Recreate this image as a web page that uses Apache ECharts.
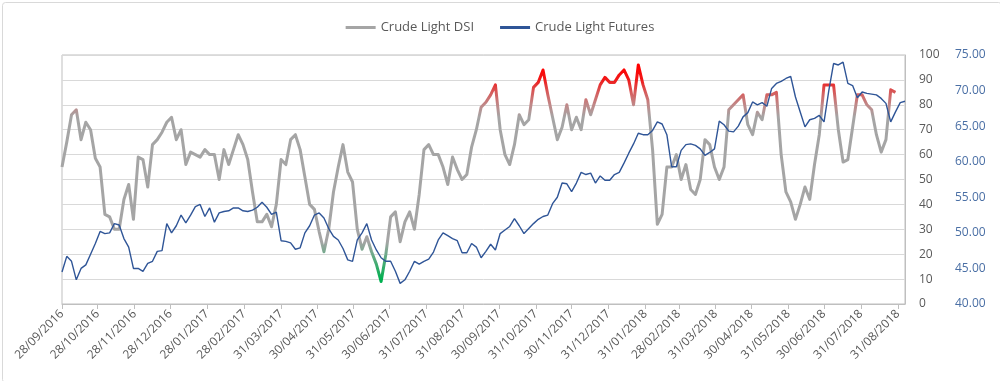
<!DOCTYPE html>
<html>
<head>
<meta charset="utf-8">
<script src="https://cdn.jsdelivr.net/npm/echarts@6/dist/echarts.min.js"></script>
<style>
html,body{margin:0;padding:0;background:#fff;}
#chart{width:1000px;height:381px;}
</style>
</head>
<body>
<div id="chart"></div>
<script>
// Sample dates (every 4 days)
const DATES = [
'2016-09-28','2016-10-02','2016-10-06','2016-10-10','2016-10-14','2016-10-18','2016-10-22','2016-10-26','2016-10-30',
'2016-11-03','2016-11-07','2016-11-11','2016-11-15','2016-11-19','2016-11-23','2016-11-27',
'2016-12-01','2016-12-05','2016-12-09','2016-12-13','2016-12-17','2016-12-21','2016-12-25','2016-12-29',
'2017-01-02','2017-01-06','2017-01-10','2017-01-14','2017-01-18','2017-01-22','2017-01-26','2017-01-30',
'2017-02-03','2017-02-07','2017-02-11','2017-02-15','2017-02-19','2017-02-23','2017-02-27',
'2017-03-03','2017-03-07','2017-03-11','2017-03-15','2017-03-19','2017-03-23','2017-03-27','2017-03-31',
'2017-04-04','2017-04-08','2017-04-12','2017-04-16','2017-04-20','2017-04-24','2017-04-28',
'2017-05-02','2017-05-06','2017-05-10','2017-05-14','2017-05-18','2017-05-22','2017-05-26','2017-05-30',
'2017-06-03','2017-06-07','2017-06-11','2017-06-15','2017-06-19','2017-06-23','2017-06-27',
'2017-07-01','2017-07-05','2017-07-09','2017-07-13','2017-07-17','2017-07-21','2017-07-25','2017-07-29',
'2017-08-02','2017-08-06','2017-08-10','2017-08-14','2017-08-18','2017-08-22','2017-08-26','2017-08-30',
'2017-09-03','2017-09-07','2017-09-11','2017-09-15','2017-09-19','2017-09-23','2017-09-27',
'2017-10-01','2017-10-05','2017-10-09','2017-10-13','2017-10-17','2017-10-21','2017-10-25','2017-10-29',
'2017-11-02','2017-11-06','2017-11-10','2017-11-14','2017-11-18','2017-11-22','2017-11-26','2017-11-30',
'2017-12-04','2017-12-08','2017-12-12','2017-12-16','2017-12-20','2017-12-24','2017-12-28',
'2018-01-01','2018-01-05','2018-01-09','2018-01-13','2018-01-17','2018-01-21','2018-01-25','2018-01-29',
'2018-02-02','2018-02-06','2018-02-10','2018-02-14','2018-02-18','2018-02-22','2018-02-26',
'2018-03-02','2018-03-06','2018-03-10','2018-03-14','2018-03-18','2018-03-22','2018-03-26','2018-03-30',
'2018-04-03','2018-04-07','2018-04-11','2018-04-15','2018-04-19','2018-04-23','2018-04-27',
'2018-05-01','2018-05-05','2018-05-09','2018-05-13','2018-05-17','2018-05-21','2018-05-25','2018-05-29',
'2018-06-02','2018-06-06','2018-06-10','2018-06-14','2018-06-18','2018-06-22','2018-06-26','2018-06-30',
'2018-07-04','2018-07-08','2018-07-12','2018-07-16','2018-07-20','2018-07-24','2018-07-28',
'2018-08-01','2018-08-05','2018-08-09','2018-08-13','2018-08-17','2018-08-21','2018-08-25','2018-08-29',
'2018-09-02','2018-09-06'
];

// Crude Light DSI (0-100)
const DSI = [
55,65,76,78,66,73,70,58.5,55,36,35,30,30,42,48,34,59,58,47,64,66,69,73,75,66,70,56,61,60,59,
62,60,60,50,62,56,62,68,64,58,45,33,33,36,31,40,58,56,66,68,62,51,40,38,29,21,30,45,55,64,
53,49,30,22,27,21,16,9,20,35,37,25,33,37,30,44,62,64,60,60,55,48,59,54,50,52,63,70,79,81,
84,88,70,60,56,64,76,72,74,87,89,94,84,75,66,71,80,70,75,70,82,76,82,88,91,89,89,92,94,
90,80,96,88,82,62,32,36,55,55,60,50,56,46,44,50,66,64,55,50,55,78,80,82,84,72,68,77,74,
84,84,85,60,45,41,34,40,47,42,56,68,88,88,88,70,57,58,71,84,84,80,78,68,61,66,86,85
];

// Crude Light Futures (price)
const FUTURES = [
44.5,46.7,46.0,43.4,45.0,45.5,47.0,48.5,50.2,49.9,50.0,51.3,51.1,49.2,48.0,45.0,45.0,44.6,45.7,46.0,47.4,47.5,51.3,50.0,51.0,52.5,51.4,52.5,53.7,54.0,
52.3,53.5,51.5,52.8,53.0,53.1,53.5,53.5,53.1,53.0,53.2,53.6,54.3,53.6,52.6,52.9,48.9,48.8,48.6,47.7,47.9,50.0,51.0,52.5,52.8,52.1,50.6,49.5,49.0,47.8,
46.2,46.0,49.0,50.0,51.3,49.0,47.6,46.5,46.0,46.0,44.6,42.9,43.4,44.6,46.0,45.6,46.0,46.3,47.3,49.0,50.0,49.6,49.2,48.9,47.2,47.2,48.5,48.0,46.5,47.4,
48.4,47.6,49.9,50.4,50.9,52.0,51.0,49.9,50.6,51.3,51.9,52.3,52.5,54.1,55.0,57.0,56.9,55.8,57.0,58.5,58.2,58.4,57.0,58.0,57.4,57.4,58.2,58.5,59.8,
61.2,62.5,64.0,63.8,63.8,64.4,65.6,65.3,63.8,59.3,59.3,61.6,62.4,62.5,62.3,61.8,60.9,61.3,61.8,65.7,65.2,64.3,64.2,65.0,66.3,66.9,68.4,68.0,68.3,
67.8,70.3,71.0,71.3,71.7,72.0,69.1,67.0,64.9,65.9,66.1,66.5,65.6,70.0,73.8,73.6,74.0,71.0,70.7,69.0,69.8,69.6,69.5,69.4,68.9,68.2,65.6,67.0,68.3,68.5
];

// X-axis tick labels
const X_TICK_LABELS = [
'28/09/2016','28/10/2016','28/11/2016','28/12/2016','28/01/2017','28/02/2017','31/03/2017','30/04/2017',
'31/05/2017','30/06/2017','31/07/2017','31/08/2017','30/09/2017','31/10/2017','30/11/2017','31/12/2017',
'31/01/2018','28/02/2018','31/03/2018','30/04/2018','31/05/2018','30/06/2018','31/07/2018','31/08/2018'
];
const X_MIN = '2016-09-28';
const X_MAX = '2018-09-06';

function parseISO(s){ const p = s.split('-').map(Number); return Date.UTC(p[0], p[1]-1, p[2]); }
function parseDMY(s){ const p = s.split('/').map(Number); return Date.UTC(p[2], p[1]-1, p[0]); }
function pad(n){ return (n < 10 ? '0' : '') + n; }
function fmt(ts){ const d = new Date(ts); return pad(d.getUTCDate()) + '/' + pad(d.getUTCMonth()+1) + '/' + d.getUTCFullYear(); }

const tickValues = X_TICK_LABELS.map(parseDMY);
const dsiData = DSI.map((v, i) => [parseISO(DATES[i]), v]);
const futData = FUTURES.map((v, i) => [parseISO(DATES[i]), v]);

const FONT = 'Open Sans';
const chart = echarts.init(document.getElementById('chart'), null, {renderer: 'canvas'});
chart.setOption({
  animation: false,
  backgroundColor: '#ffffff',
  textStyle: {fontFamily: FONT},
  graphic: [{
    type: 'rect', left: 0, top: 0, silent: true,
    shape: {x: 0.5, y: 0.5, width: 999, height: 380, r: 3},
    style: {fill: 'none', stroke: '#d9d9d9', lineWidth: 1}
  }],
  legend: {
    top: 16, left: 'center', icon: 'rect', itemWidth: 30, itemHeight: 3, itemGap: 26,
    textStyle: {fontFamily: FONT, fontSize: 13, color: '#595959'},
    data: [
      {name: 'Crude Light DSI', itemStyle: {color: '#a5a5a5'}},
      {name: 'Crude Light Futures', itemStyle: {color: '#2f5597'}}
    ]
  },
  grid: {left: 62, right: 95, top: 55, bottom: 77, show: true, borderColor: '#bfbfbf', borderWidth: 1},
  xAxis: {
    type: 'value',
    min: parseISO(X_MIN), max: parseISO(X_MAX),
    axisLine: {show: true, onZero: false, lineStyle: {color: '#bfbfbf'}},
    axisTick: {show: true, length: 5, customValues: tickValues, lineStyle: {color: '#bfbfbf'}},
    axisLabel: {
      customValues: tickValues, rotate: 45, margin: 8, hideOverlap: false,
      color: '#595959', fontSize: 12, fontFamily: FONT,
      formatter: function (v) { return fmt(v); }
    },
    splitLine: {show: false},
    minorTick: {show: false}
  },
  yAxis: [
    {
      type: 'value', position: 'right', min: 0, max: 100, interval: 10,
      axisLine: {show: true, lineStyle: {color: '#bfbfbf'}},
      axisTick: {show: false},
      axisLabel: {color: '#595959', fontSize: 12, margin: 14, fontFamily: FONT},
      splitLine: {show: true, lineStyle: {color: '#d9d9d9'}}
    },
    {
      type: 'value', position: 'right', offset: 42, min: 40, max: 75, interval: 5,
      axisLine: {show: false}, axisTick: {show: false},
      axisLabel: {color: '#4a6fa5', fontSize: 12, margin: 8, fontFamily: FONT,
        formatter: function (v) { return v.toFixed(2); }},
      splitLine: {show: false}
    }
  ],
  visualMap: {
    type: 'continuous', show: false, seriesIndex: 0, dimension: 1, min: 0, max: 100,
    inRange: {color: [
      '#00b050','#00b050','#00b050','#37ac6c','#6ea989',
      '#a5a5a5','#a5a5a5','#a5a5a5','#a5a5a5','#a5a5a5','#a5a5a5',
      '#a5a5a5','#a5a5a5','#a5a5a5','#a5a5a5','#a5a5a5',
      '#c08888','#d65c5c','#f01a1a','#ff0000','#ff0000'
    ]}
  },
  series: [
    {
      name: 'Crude Light DSI', type: 'line', yAxisIndex: 0, data: dsiData,
      showSymbol: false, symbol: 'none',
      lineStyle: {width: 3, join: 'round'}
    },
    {
      name: 'Crude Light Futures', type: 'line', yAxisIndex: 1, data: futData,
      showSymbol: false, symbol: 'none',
      lineStyle: {width: 1.4, color: '#2f5597'},
      itemStyle: {color: '#2f5597'}
    }
  ]
});
</script>
</body>
</html>
